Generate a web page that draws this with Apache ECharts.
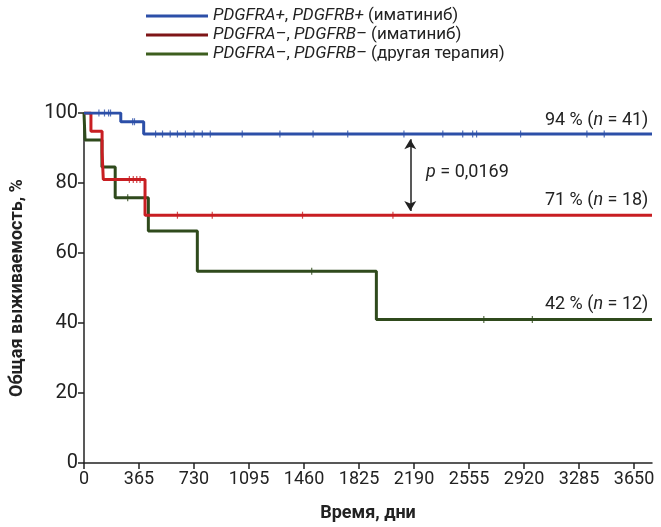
<!DOCTYPE html>
<html>
<head>
<meta charset="utf-8">
<script src="https://cdn.jsdelivr.net/npm/echarts@6/dist/echarts.min.js"></script>
<style>
  html, body { margin: 0; padding: 0; background: #fff; }
  #chart { width: 661px; height: 527px; }
</style>
</head>
<body>
<div id="chart"></div>
<script>
// шкала времени, дни
const xTicks = [0, 365, 730, 1095, 1460, 1825, 2190, 2555, 2920, 3285, 3650]

// кривые Каплана–Мейера: [день, выживаемость %]
const bluePoints = [[0, 100], [244, 97.5], [396, 94], [3769, 94]]
const redPoints = [[0, 100], [46, 94.8], [120, 88.9], [128, 81], [405, 70.8], [3769, 70.8]]
const greenPoints = [[0, 100], [7, 92.3], [119, 84.6], [207, 75.8], [427, 66.3], [752, 54.8], [1940, 41], [3769, 41]]

// цензурированные наблюдения
const blueCensor = [[99, 100], [136, 100], [163, 100], [176, 100], [323, 97.5], [335, 97.5],
  [475, 94], [521, 94], [572, 94], [620, 94], [673, 94], [730, 94], [785, 94], [838, 94],
  [1050, 94], [1300, 94], [1520, 94], [1750, 94], [2123, 94], [2381, 94], [2513, 94],
  [2579, 94], [2605, 94], [2897, 94], [3337, 94], [3452, 94]]
const redCensor = [[301, 81], [327, 81], [350, 81], [372, 81], [620, 70.8], [851, 70.8], [1450, 70.8], [2050, 70.8]]
const greenCensor = [[290, 75.8], [1511, 54.8], [2653, 41], [2975, 41]]

const seriesNames = ['blue', 'red', 'green']
const legendLabels = {
  blue: '{i|PDGFRA+}, {i|PDGFRB+} (иматиниб)',
  red: '{i|PDGFRA–}, {i|PDGFRB–} (иматиниб)',
  green: '{i|PDGFRA–}, {i|PDGFRB–} (другая терапия)'
}

const FONT = "'Roboto', sans-serif"
const colors = { blue: '#2c4fa8', red: '#c81e22', green: '#2f4a1c' }
const legendColors = { blue: '#2c4fa8', red: '#7e1517', green: '#3d5e1e' }

const chart = echarts.init(document.getElementById('chart'), null, { renderer: 'canvas' })

const textRich = (size) => ({
  i: { fontStyle: 'italic', fontFamily: FONT, fontSize: size, color: '#222' }
})

const stepSeries = (name, data) => ({
  name: name,
  type: 'line',
  step: 'end',
  data: data,
  showSymbol: false,
  lineStyle: { width: 3, color: colors[name] },
  itemStyle: { color: legendColors[name] },
  animation: false,
  z: name === 'blue' ? 3 : (name === 'red' ? 2 : 1)
})

const censorSeries = (name, data) => ({
  name: name,
  type: 'scatter',
  data: data,
  symbol: 'rect',
  symbolSize: [1.2, 7],
  itemStyle: { color: colors[name] },
  animation: false,
  z: 4
})

const noteLabel = (text, pos) => ({
  show: true,
  position: pos,
  distance: 0,
  formatter: text,
  fontFamily: FONT,
  fontSize: 18,
  color: '#222',
  rich: textRich(18)
})

const option = {
  animation: false,
  grid: { left: 81, right: 9, top: 113, bottom: 61 },
  legend: {
    data: seriesNames.map(n => ({
      name: n,
      itemStyle: { color: legendColors[n] },
      lineStyle: { color: legendColors[n] }
    })),
    orient: 'vertical',
    left: 141,
    top: 2,
    itemWidth: 62,
    itemHeight: 3,
    itemGap: 1,
    icon: 'rect',
    selectedMode: false,
    formatter: n => legendLabels[n],
    textStyle: {
      fontFamily: FONT,
      fontSize: 17,
      color: '#222',
      lineHeight: 18,
      rich: textRich(17)
    }
  },
  xAxis: {
    type: 'value',
    min: 0,
    max: 3769,
    name: 'Время, дни',
    nameLocation: 'middle',
    nameGap: 41,
    nameTextStyle: { fontFamily: FONT, fontSize: 18, fontWeight: 'bold', color: '#222' },
    axisLine: { show: true, lineStyle: { color: '#222', width: 1.5 } },
    axisTick: { show: true, customValues: xTicks, length: 6, lineStyle: { color: '#222', width: 1.5 } },
    axisLabel: {
      customValues: xTicks,
      formatter: v => String(v),
      fontFamily: FONT, fontSize: 18, color: '#222', margin: 7
    },
    splitLine: { show: false }
  },
  yAxis: {
    type: 'value',
    min: 0,
    max: 100,
    interval: 20,
    name: 'Общая выживаемость, %',
    nameLocation: 'middle',
    nameGap: 58,
    nameTextStyle: { fontFamily: FONT, fontSize: 18, fontWeight: 'bold', color: '#222' },
    axisLine: { show: true, lineStyle: { color: '#222', width: 1.5 } },
    axisTick: { show: true, length: 6, lineStyle: { color: '#222', width: 1.5 } },
    axisLabel: { fontFamily: FONT, fontSize: 20, color: '#222', margin: 6 },
    splitLine: { show: false }
  },
  series: [
    stepSeries('green', greenPoints),
    stepSeries('red', redPoints),
    Object.assign(stepSeries('blue', bluePoints), {
      markLine: {
        silent: true,
        symbol: ['arrow', 'arrow'],
        symbolSize: [9, 10],
        label: { show: false },
        lineStyle: { color: '#222', width: 1.5, type: 'solid' },
        data: [[{ coord: [2165, 92.5] }, { coord: [2165, 72] }]]
      },
      markPoint: {
        symbol: 'circle',
        symbolSize: 0,
        data: [
          { coord: [3745, 98], label: noteLabel('94 % ({i|n} = 41)', 'left') },
          { coord: [3745, 75], label: noteLabel('71 % ({i|n} = 18)', 'left') },
          { coord: [3745, 45.3], label: noteLabel('42 % ({i|n} = 12)', 'left') },
          { coord: [2270, 83], label: noteLabel('{i|p} = 0,0169', 'right') }
        ]
      }
    }),
    censorSeries('green', greenCensor),
    censorSeries('red', redCensor),
    censorSeries('blue', blueCensor)
  ]
}

chart.setOption(option)
window.addEventListener('resize', chart.resize)
</script>
</body>
</html>
